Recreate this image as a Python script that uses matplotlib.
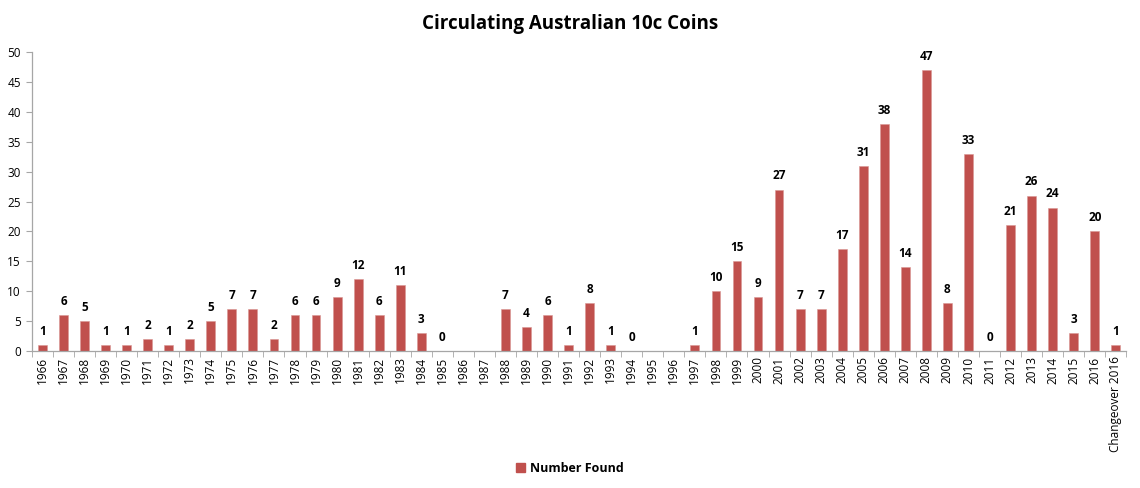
import numpy as np
import matplotlib.pyplot as plt

plt.rcParams['font.family'] = ['Open Sans', 'DejaVu Sans']

years = [str(y) for y in range(1966, 2017)] + ["Changeover 2016"]
found = [1, 6, 5, 1, 1, 2, 1, 2, 5, 7,
         7, 2, 6, 6, 9, 12, 6, 11, 3, 0,
         None, None, 7, 4, 6, 1, 8, 1, 0, None,
         None, 1, 10, 15, 9, 27, 7, 7, 17, 31,
         38, 14, 47, 8, 33, 0, 21, 26, 24, 3,
         20, 1]

bar_color = '#C0504D'
axis_grey = '#A6A6A6'

vals = np.array([np.nan if v is None else v for v in found], dtype=float)
x = np.arange(len(years))

fig = plt.figure(figsize=(11.4, 4.88), dpi=100)
ax = fig.add_axes([0.028, 0.281, 0.960, 0.612])

ax.bar(x, np.nan_to_num(vals), 0.42, color=bar_color, edgecolor='#D99694', linewidth=0.4)
for xi, v in zip(x, vals):
    if not np.isnan(v):
        ax.text(xi, v + 1.2, f"{int(v)}", ha='center', va='bottom',
                fontsize=8.5, fontweight='bold', color='black')

ax.set_xlim(-0.5, len(years) - 0.5)
ax.set_ylim(0, 50)
ax.set_yticks(range(0, 51, 5))
ax.tick_params(axis='y', labelsize=8.5, length=4, color=axis_grey, pad=4)

ax.set_xticks(x)
ax.set_xticklabels(years, rotation=90, fontsize=8.5)
ax.tick_params(axis='x', length=0, pad=4)
ax.set_xticks(np.arange(-0.5, len(years)), minor=True)
ax.tick_params(axis='x', which='minor', length=4, color=axis_grey)

for side in ['top', 'right']:
    ax.spines[side].set_visible(False)
for side in ['left', 'bottom']:
    ax.spines[side].set_color(axis_grey)
    ax.spines[side].set_linewidth(0.9)

fig.suptitle('Circulating Australian 10c Coins', fontsize=13.5, fontweight='bold', y=0.972)

handle = plt.Rectangle((0, 0), 1, 1, color=bar_color)
fig.legend([handle], ['Number Found'], loc='center', bbox_to_anchor=(0.5, 0.04),
           frameon=False, handlelength=0.7, handleheight=0.7,
           handletextpad=0.4, prop={'weight': 'bold', 'size': 9})

fig.savefig('out.png', dpi=100)
